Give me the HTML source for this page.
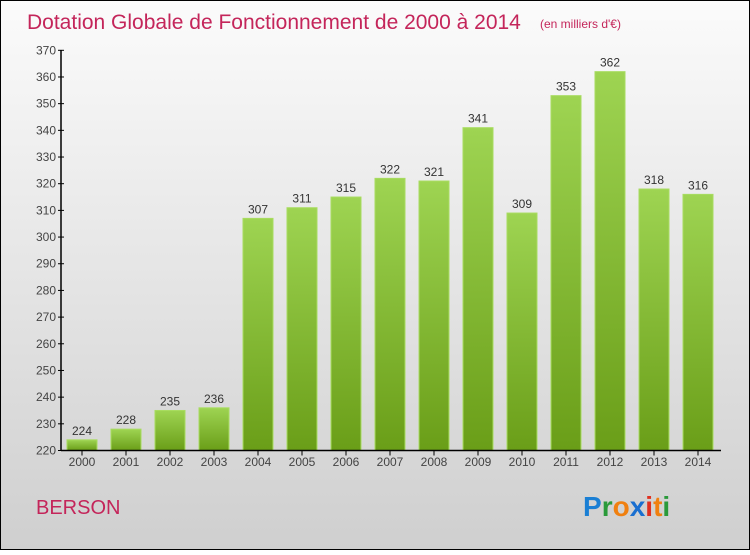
<!DOCTYPE html>
<html><head><meta charset="utf-8"><style>
body{margin:0;width:750px;height:550px;overflow:hidden;font-family:"Liberation Sans",sans-serif}
</style></head><body>
<svg width="750" height="550" xmlns="http://www.w3.org/2000/svg">
<defs>
<linearGradient id="bg" x1="0" y1="0" x2="0" y2="1"><stop offset="0" stop-color="#fbfbfb"/><stop offset="1" stop-color="#cfcfcf"/></linearGradient>
<linearGradient id="bar" x1="0" y1="0" x2="0" y2="1"><stop offset="0" stop-color="#9ed452"/><stop offset="1" stop-color="#6a9e18"/></linearGradient>
</defs>
<rect x="0.5" y="0.5" width="749" height="549" fill="url(#bg)" stroke="#000"/>
<text x="27" y="29" font-size="21" fill="#c4255a">Dotation Globale de Fonctionnement de 2000 à 2014</text>
<text x="540" y="28" font-size="12" fill="#c4255a">(en milliers d'€)</text>
<g id="yaxis"></g>
<g id="bars"></g>
<g id="xaxis"></g>
<text x="36" y="514" font-size="20" fill="#c4255a">BERSON</text>
<g font-size="28" font-weight="bold" font-family="Liberation Sans, sans-serif">
<text x="583" y="516"><tspan fill="#1a7fd4">P</tspan><tspan fill="#2a9a3a">r</tspan><tspan fill="#f08010">o</tspan><tspan fill="#1a6fd0">x</tspan><tspan fill="#e03020">i</tspan><tspan fill="#f08010">t</tspan><tspan fill="#2a9a3a">i</tspan></text>
</g>
</svg>
<script>
const years=["2000","2001","2002","2003","2004","2005","2006","2007","2008","2009","2010","2011","2012","2013","2014"];
const values=[224,228,235,236,307,311,315,322,321,341,309,353,362,318,316];
const yTicks=[220,230,240,250,260,270,280,290,300,310,320,330,340,350,360,370];
const NS="http://www.w3.org/2000/svg";
const yMin=220,yMax=370,yTop=50.3,yBot=450.5;
function y(v){return yBot-(v-yMin)/(yMax-yMin)*(yBot-yTop);}
function xc(i){return 82+i*44;}
function mk(tag,attrs,parent,txt){const e=document.createElementNS(NS,tag);for(const k in attrs)e.setAttribute(k,attrs[k]);if(txt!==undefined)e.textContent=txt;parent.appendChild(e);return e;}
const ya=document.getElementById('yaxis'),ba=document.getElementById('bars'),xa=document.getElementById('xaxis');
yTicks.forEach(t=>{
  const l=mk('line',{x1:58,x2:64,y1:y(t),y2:y(t),stroke:'#000'},ya);
  
  
  const tx=mk('text',{x:56,y:y(t)+4,'text-anchor':'end','font-size':12,fill:'#444'},ya,t);
  
  
});
values.forEach((v,i)=>{
  const r=mk('rect',{x:xc(i)-15,y:y(v),width:30,height:yBot-y(v),fill:'url(#bar)',stroke:'#a8dc60','stroke-width':1},ba);
  
  
  const t=mk('text',{x:xc(i),y:y(v)-5,'text-anchor':'middle','font-size':12,fill:'#333'},ba,v);
  
  
  const tk=mk('line',{x1:xc(i),x2:xc(i),y1:yBot,y2:yBot+5,stroke:'#000'},xa);
  
  
  const xl=mk('text',{x:xc(i),y:466,'text-anchor':'middle','font-size':12,fill:'#444'},xa,years[i]);
  
  
});
const al=mk('line',{x1:61,x2:61,y1:yTop,y2:yBot,stroke:'#000','stroke-width':1.5},ya);


const xl=mk('line',{x1:61,x2:721,y1:yBot,y2:yBot,stroke:'#000','stroke-width':1.5},xa);


</script>
</body></html>
